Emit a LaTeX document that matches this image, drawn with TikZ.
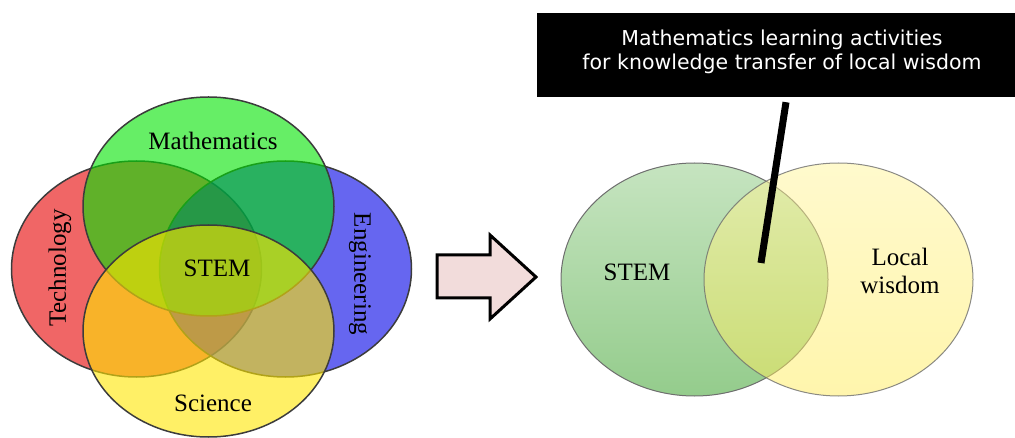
\documentclass[tikz,border=0pt]{standalone}
\usepackage{fontspec}
\setmainfont{Liberation Serif}
\newfontfamily\boxfont{DejaVu Sans}
\definecolor{cred}{RGB}{230,0,0}
\definecolor{cblue}{RGB}{0,0,230}
\definecolor{cgreen}{RGB}{0,227,0}
\definecolor{cyellow}{RGB}{255,230,0}
\definecolor{edge}{RGB}{60,60,60}
\definecolor{arrowfill}{RGB}{242,220,219}
\definecolor{stemtop}{RGB}{198,228,192}
\definecolor{stembot}{RGB}{148,204,140}
\definecolor{lwtop}{RGB}{255,245,155}
\definecolor{lwbot}{RGB}{255,236,90}
\definecolor{redge}{RGB}{110,110,110}
\tikzset{
  venn/.style={fill opacity=0.6, draw=edge, line width=1.5pt},
  lbl/.style={font=\fontsize{25}{28}\selectfont, inner sep=0pt, align=center},
  boxshape/.style={fill=black, minimum width=478pt, minimum height=84pt, inner sep=0pt},
  boxlbl/.style={text=white, inner sep=0pt, align=center, font=\boxfont\fontsize{20.5}{24}\selectfont},
}
\begin{document}
\begin{tikzpicture}[x=1pt,y=-1pt]
\useasboundingbox (0,0) rectangle (1015,438);
% left Venn
\path[venn, fill=cred]    (136.5,269) ellipse [x radius=125pt, y radius=108pt];
\path[venn, fill=cblue]   (285.5,269) ellipse [x radius=126pt, y radius=108pt];
\path[venn, fill=cgreen]  (208.5,206.5) ellipse [x radius=125.5pt, y radius=109.5pt];
\path[venn, fill=cyellow] (208.5,331) ellipse [x radius=125.5pt, y radius=106pt];
\node[lbl] (math) at (213,141) {Mathematics};
\node[lbl] (stemL) at (217,268) {STEM};
\node[lbl] (sci) at (213,403) {Science};
\node[lbl, rotate=90] (tech) at (60,268) {Technology};
\node[lbl, rotate=-90] (eng) at (360,274) {Engineering};
% arrow
\draw[fill=arrowfill, line width=3pt, line join=miter]
  (437,255) -- (490,255) -- (490,235) -- (536,277) -- (490,319) -- (490,298) -- (437,298) -- cycle;
% right Venn
\shade[top color=stemtop, bottom color=stembot, draw=redge, line width=1pt]
  (694.5,279.5) ellipse [x radius=133.5pt, y radius=116.5pt];
\shade[top color=lwtop, bottom color=lwbot, fill opacity=0.5, draw=redge, draw opacity=0.8, line width=1pt]
  (838.5,279.5) ellipse [x radius=134.5pt, y radius=116.5pt];
\node[lbl] (stemR) at (637,272) {STEM};
\node[lbl] (lw) at (900,271) {Local\\wisdom};
% callout
\node[boxshape] (box) at (776,55) {};
\node[boxlbl] (boxtxt) at (782,52) {Mathematics learning activities\\for knowledge transfer of local wisdom};
\coordinate (pt) at (761,263);
\draw[line width=7pt] ([xshift=10pt,yshift=-5pt]box.south) -- (pt);
\end{tikzpicture}
\end{document}
